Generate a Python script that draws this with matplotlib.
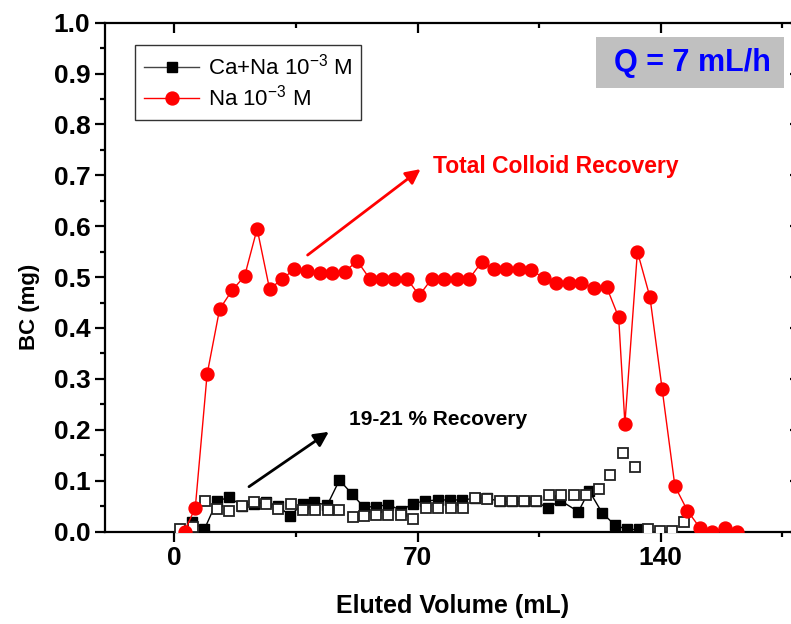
import matplotlib
matplotlib.use("Agg")
import matplotlib.pyplot as plt
from matplotlib.patches import Rectangle
from matplotlib.ticker import MultipleLocator

plt.rcParams['font.family'] = ['Liberation Sans', 'DejaVu Sans']
plt.rcParams['mathtext.default'] = 'regular'

# Na 10^-3 M (red circles)
na_x = [2.9, 6.0, 9.4, 13.0, 16.6, 20.2, 23.8, 27.4, 30.9, 34.5, 38.1, 41.8, 45.3, 49.0,
        52.6, 56.2, 59.7, 63.3, 66.9, 70.5, 74.1, 77.7, 81.3, 84.9, 88.5, 91.9, 95.6,
        99.1, 102.8, 106.3, 109.9, 113.5, 117.2, 120.7, 124.4, 127.9, 129.7, 133.3,
        136.9, 140.4, 144.1, 147.7, 151.3, 154.8, 158.5, 162.0]
na_y = [0.0, 0.047, 0.309, 0.437, 0.474, 0.502, 0.595, 0.476, 0.496, 0.515, 0.512, 0.509,
        0.509, 0.510, 0.532, 0.497, 0.497, 0.497, 0.497, 0.464, 0.497, 0.497, 0.497, 0.497,
        0.530, 0.515, 0.515, 0.515, 0.513, 0.499, 0.489, 0.489, 0.489, 0.479, 0.481, 0.421,
        0.212, 0.550, 0.461, 0.281, 0.089, 0.041, 0.007, 0.0, 0.007, 0.0]

# Ca+Na 10^-3 M (filled squares)
cana_x = [5.0, 8.6, 12.2, 15.8, 19.4, 23.0, 26.4, 29.7, 33.4, 36.9, 40.3, 44.0, 47.5, 51.1,
          54.5, 58.1, 61.6, 65.3, 68.6, 72.2, 75.8, 79.4, 82.8, 86.4, 89.9, 93.6, 97.1,
          100.6, 104.1, 107.5, 111.1, 116.3, 119.4, 123.2, 126.8, 130.2, 133.8]
cana_y = [0.019, 0.004, 0.059, 0.068, 0.050, 0.055, 0.057, 0.050, 0.031, 0.055, 0.057, 0.052,
          0.101, 0.074, 0.048, 0.049, 0.053, 0.041, 0.055, 0.060, 0.062, 0.062, 0.062, 0.065,
          0.066, 0.059, 0.059, 0.059, 0.059, 0.046, 0.061, 0.039, 0.080, 0.036, 0.013,
          0.004, 0.004]

# second run (open squares)
open_x = [1.6, 5.3, 8.8, 12.2, 15.8, 19.4, 23.0, 26.4, 29.9, 33.6, 36.9, 40.5, 44.1, 47.5,
          51.3, 54.7, 58.1, 61.6, 65.3, 68.8, 72.5, 76.0, 79.5, 83.0, 86.4, 90.0, 93.6,
          97.1, 100.6, 104.1, 107.7, 111.3, 114.9, 118.5, 122.1, 125.5, 129.1, 132.7,
          136.3, 139.9, 143.3, 146.8]
open_y = [0.004, 0.009, 0.059, 0.044, 0.041, 0.050, 0.057, 0.055, 0.044, 0.055, 0.042, 0.042,
          0.042, 0.042, 0.029, 0.031, 0.032, 0.032, 0.032, 0.024, 0.046, 0.046, 0.046, 0.046,
          0.066, 0.064, 0.059, 0.059, 0.059, 0.059, 0.072, 0.072, 0.072, 0.072, 0.083,
          0.112, 0.154, 0.126, 0.005, 0.001, 0.001, 0.019]

x_ticks = [0, 70, 140]

fig = plt.figure(figsize=(7.91, 6.24), dpi=100)
ax = fig.add_axes([105/791, 92.5/624, 694.6/791, 508.8/624])

ax.plot(cana_x, cana_y, color='black', lw=1.0, marker='s', ms=7.8, mfc='black', mec='black',
        mew=1, zorder=3, label='Ca+Na 10$^{-3}$ M')
ax.plot(open_x, open_y, ls='none', marker='s', ms=7.8, mfc='white', mec='#222222', mew=1.3,
        zorder=4)
ax.plot(na_x, na_y, color='#ff0000', lw=1.0, marker='o', ms=9.3, mfc='#ff0000', mec='#ff0000',
        zorder=5, label='Na 10$^{-3}$ M')

ax.set_xlim(-20, 180)
ax.set_ylim(0, 1.0)
ax.set_xticks(x_ticks)
ax.xaxis.set_minor_locator(MultipleLocator(35))
ax.yaxis.set_major_locator(MultipleLocator(0.1))
ax.yaxis.set_minor_locator(MultipleLocator(0.05))
ax.yaxis.set_major_formatter(matplotlib.ticker.FormatStrFormatter('%.1f'))

for s in ax.spines.values():
    s.set_linewidth(1.6)
ax.tick_params(axis='both', which='major', length=7, width=1.6, labelsize=19)
ax.tick_params(axis='both', which='minor', length=3.5, width=1.6)
ax.tick_params(axis='x', which='both', top=True, direction='out')
ax.tick_params(axis='y', which='both', right=True, direction='out')
for lab in ax.get_xticklabels() + ax.get_yticklabels():
    lab.set_fontweight('bold')
for t in ax.xaxis.get_major_ticks() + ax.xaxis.get_minor_ticks():
    t.tick2line.set_marker(matplotlib.lines.TICKDOWN)
for t in ax.yaxis.get_major_ticks() + ax.yaxis.get_minor_ticks():
    t.tick2line.set_marker(matplotlib.lines.TICKLEFT)

ax.set_xlabel('Eluted Volume (mL)', fontsize=18, fontweight='bold', va='center')
ax.xaxis.set_label_coords(0.5, -0.146)
ax.set_ylabel('BC (mg)', fontsize=16, fontweight='bold')
ax.yaxis.set_label_coords(-0.094, 0.441)

leg = ax.legend(loc='upper left', bbox_to_anchor=(0.043, 0.956), borderaxespad=0,
                fontsize=16, frameon=True, fancybox=False, edgecolor='black',
                handlelength=2.5, borderpad=0.4, labelspacing=0.22, handletextpad=0.4)
leg.get_frame().set_linewidth(1.0)
leg.get_lines()[0].set_color('#444444')
leg.get_lines()[0].set_markerfacecolor('black')
leg.get_lines()[0].set_markeredgecolor('black')

ax.add_patch(Rectangle((121.5, 0.871), 54.1, 0.101, facecolor='#c0c0c0', edgecolor='none',
                       zorder=6))
ax.text(149.2, 0.921, 'Q = 7 mL/h', color='#0000ff', fontsize=22, fontweight='bold',
        ha='center', va='center', zorder=7)

ax.annotate('', xy=(71.5, 0.7155), xytext=(37.7, 0.540),
            arrowprops=dict(arrowstyle='-|>', color='#ff0000', lw=2, mutation_scale=22))
ax.text(74.3, 0.717, 'Total Colloid Recovery', color='#ff0000', fontsize=16.5,
        fontweight='bold', ha='left', va='center')
ax.annotate('', xy=(45.1, 0.199), xytext=(20.8, 0.085),
            arrowprops=dict(arrowstyle='-|>', color='black', lw=2, mutation_scale=22))
ax.text(50.4, 0.221, '19-21 % Recovery', color='black', fontsize=15,
        fontweight='bold', ha='left', va='center')

fig.savefig('out.png', dpi=100)
